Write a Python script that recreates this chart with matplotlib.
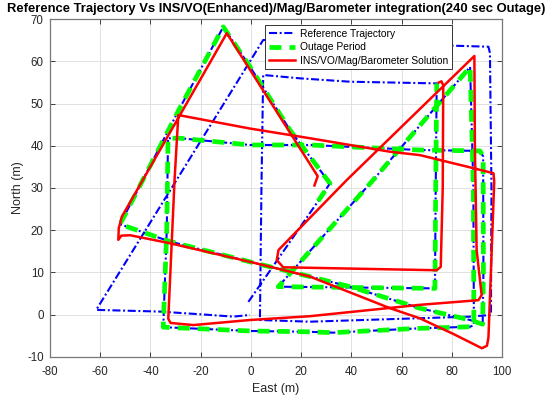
import numpy as np
import matplotlib
matplotlib.use('Agg')
import matplotlib.pyplot as plt

plt.rcParams['font.family'] = ['Liberation Sans', 'DejaVu Sans']
plt.rcParams['lines.scale_dashes'] = False
plt.rcParams['axes.unicode_minus'] = False

# reference trajectory (east, north) in metres
ref_east = [-1.0, 26.8, 31.5, 15.6, -0.4, -11.0, -28.7, -52.1,
            -32.2, -0.4, 23.5, 39.5, 67.3, 87.3, 92.3,
            92.6, 92.5, 91.2,
            67.3, 23.5, -0.4, -28.2, -33.0,
            -33.5, -34.9,
            -0.4, 23.5, 32.7, 66.0, 87.3, 88.8,
            88.6, 87.3,
            48.7, 10.9,
            73.3,
            73.6, 74.0,
            39.5, 19.6, 4.9,
            4.2, 3.6,
            23.5, 87.3, 95.6,
            95.8, 95.2, 94.6,
            71.3, 4.9,
            -61.6,
            -36.2, -16.3, -7.0, -0.4]
ref_north = [3.0, 26.9, 31.1, 43.7, 58.8, 68.2, 48.5, 21.4,
             17.3, 12.5, 9.0, 6.6, 1.5, -1.3, -2.3,
             10.0, 37.5, 38.8,
             39.0, 40.2, 40.2, 41.8, 41.8,
             20.0, -3.0,
             -3.9, -4.1, -4.3, -3.3, -2.9, -2.5,
             30.0, 58.7,
             31.9, 6.6,
             6.2,
             30.0, 54.8,
             55.2, 56.0, 56.8,
             30.0, -1.3,
             -1.7, -0.5, -0.1,
             30.0, 62.0, 63.5,
             63.9, 65.1,
             1.1,
             0.7, -0.1, -0.5, -0.1]

# outage period: slice of the reference trajectory
outage_start = 1
outage_end = 37

# INS/VO/Mag/Barometer solution
sol_east = [25.3, 26.6, -9.6, -51.4, -52.6, -52.8, -51.6, -48.1,
            -32.2, -0.4, 23.5, 55.4, 67.3, 80.6, 92.0, 94.0, 94.6,
            95.9, 96.9, 96.6,
            88.6, 67.3, 55.4, 23.5, -0.4, -28.9,
            -30.4, -32.9, -32.0,
            -22.9, -0.4, 23.5, 67.3, 90.6, 91.9,
            89.9, 89.2, 89.0,
            38.2, 11.0, 10.3, 12.9,
            74.0, 75.6,
            76.4, 76.6, 75.9, 74.8]
sol_north = [30.6, 32.8, 66.7, 23.2, 20.5, 17.7, 18.7, 18.8,
             16.9, 12.5, 9.0, 1.5, -0.9, -4.6, -8.0, -7.4, -5.5,
             15.3, 31.5, 33.5,
             34.7, 37.8, 38.6, 41.8, 44.1, 47.3,
             31.9, -1.0, -2.0,
             -2.5, -1.3, -0.4, 2.3, 3.4, 4.6,
             15.3, 40.0, 61.3,
             31.9, 15.3, 12.9, 11.2,
             10.5, 11.3,
             30.0, 54.3, 55.3, 55.0]

fig = plt.figure(figsize=(5.5, 3.98), dpi=100)
ax = fig.add_axes([50/550, 1-356.7/398, 452/550, 337.4/398])

ax.plot(ref_east, ref_north, color='blue', linewidth=1.5, dashes=(5.8, 1.9, 1.4, 1.9),
        label='Reference Trajectory', zorder=3)
ax.plot(ref_east[outage_start:outage_end+1], ref_north[outage_start:outage_end+1],
        color=(0, 1, 0), linewidth=3.4, dashes=(8.6, 5.8),
        label='Outage Period', zorder=4)
ax.plot(sol_east, sol_north, color='red', linewidth=1.8,
        label='INS/VO/Mag/Barometer Solution', zorder=5)

ax.set_xlim(-80, 100)
ax.set_ylim(-10, 70)
ax.set_xticks(np.arange(-80, 101, 20))
ax.set_yticks(np.arange(-10, 71, 10))
ax.grid(True, color='#dcdcdc', linewidth=0.6)
ax.set_axisbelow(True)
ax.tick_params(direction='in', length=3.5, width=0.6, top=True, right=True,
               labelsize=8.3, colors='#262626')
ax.tick_params(axis='x', pad=7)
ax.tick_params(axis='y', pad=4.5)
for s in ax.spines.values():
    s.set_color('#777777')
    s.set_linewidth(0.9)

ax.set_xlabel('East (m)', fontsize=9, color='#262626', labelpad=3)
ax.set_ylabel('North (m)', fontsize=9, color='#262626', labelpad=2)
ax.set_title('Reference Trajectory Vs INS/VO(Enhanced)/Mag/Barometer integration(240 sec Outage)',
             fontsize=9.4, fontweight='bold', pad=5)

leg = ax.legend(loc='upper left', bbox_to_anchor=(0.4757, 0.983), borderaxespad=0,
                fontsize=7.4, fancybox=False, framealpha=1, edgecolor='#333333',
                handlelength=2.6, handletextpad=0.5, labelspacing=0.35, borderpad=0.35)
leg.get_frame().set_linewidth(0.7)

fig.savefig('out.png', dpi=100)
